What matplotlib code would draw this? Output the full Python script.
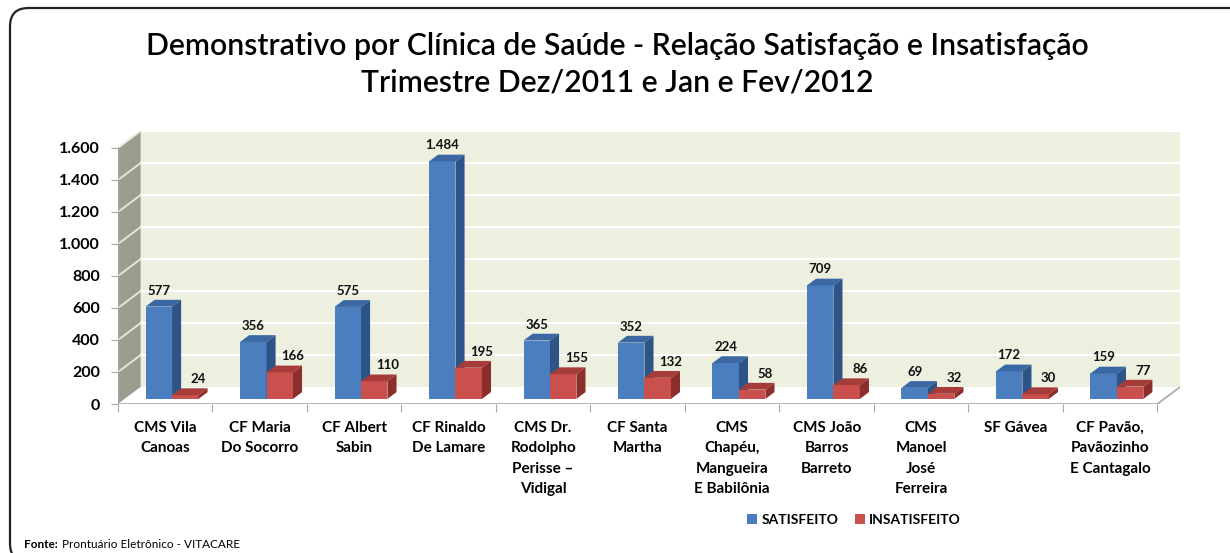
import matplotlib.pyplot as plt
from matplotlib.patches import Polygon, Patch, FancyBboxPatch
import numpy as np

plt.rcParams['font.family'] = ['Lato', 'DejaVu Sans']

# data
clinicas = ['CMS Vila\nCanoas', 'CF Maria\nDo Socorro', 'CF Albert\nSabin',
            'CF Rinaldo\nDe Lamare', 'CMS Dr.\nRodolpho\nPerisse –\nVidigal',
            'CF Santa\nMartha', 'CMS\nChapéu,\nMangueira\nE Babilônia',
            'CMS João\nBarros\nBarreto', 'CMS\nManoel\nJosé\nFerreira',
            'SF Gávea', 'CF Pavão,\nPavãozinho\nE Cantagalo']
satisfeito = [577, 356, 575, 1484, 365, 352, 224, 709, 69, 172, 159]
insatisfeito = [24, 166, 110, 195, 155, 132, 58, 86, 32, 30, 77]
y_ticks = [0, 200, 400, 600, 800, 1000, 1200, 1400, 1600]
y_ticklabels = ['0', '200', '400', '600', '800', '1.000', '1.200', '1.400', '1.600']

W, H = 1230, 553
fig = plt.figure(figsize=(W / 100, H / 100), dpi=100)

def fx(px):
    return px / W

def fy(py):
    return 1 - py / H

# rounded frame, right and bottom run off the picture
frame = FancyBboxPatch((fx(10), fy(562)), fx(1260) - fx(10), fy(8) - fy(562),
                       boxstyle='round,pad=0,rounding_size=0.015',
                       transform=fig.transFigure, fill=False, ec='#222222', lw=1.6,
                       mutation_aspect=W / H)
fig.patches.append(frame)

fig.text(0.502, fy(46), 'Demonstrativo por Clínica de Saúde - Relação Satisfação e Insatisfação',
         ha='center', va='center', fontsize=21.7, fontweight='semibold', color='black')
fig.text(0.502, fy(82), 'Trimestre Dez/2011 e Jan e Fev/2012',
         ha='center', va='center', fontsize=21.7, fontweight='semibold', color='black')

# pseudo 3d geometry
n = len(clinicas)
DX = 0.24      # depth offset in category units
DY = 106       # depth offset in value units
f0, f1 = 0.3, 0.7

ax = fig.add_axes([fx(118), fy(404), fx(1180) - fx(118), fy(131) - fy(404)])
ax.set_xlim(0, n + DX)
ax.set_ylim(0, 1600 + DY)
for s in ax.spines.values():
    s.set_visible(False)

# walls
ax.add_patch(Polygon([(0, 0), (DX, DY), (DX, 1600 + DY), (0, 1600)],
                     closed=True, fc='#9c9d8e', ec='none', zorder=1))
ax.add_patch(Polygon([(DX, DY), (n + DX, DY), (n + DX, 1600 + DY), (DX, 1600 + DY)],
                     closed=True, fc='#edf0df', ec='none', zorder=1))
for v in y_ticks[1:]:
    ax.plot([DX, n + DX], [v + DY, v + DY], color='white', lw=1.6, zorder=2)
    ax.plot([0, DX], [v, v + DY], color='#e8eadc', lw=1.3, zorder=2)
# floor
ax.add_patch(Polygon([(0, 0), (n, 0), (n + DX, DY), (DX, DY)],
                     closed=True, fc='white', ec='none', zorder=2))
ax.plot([0, n, n + DX], [0, 0, DY], color='#a8a8a8', lw=1.2, zorder=3)
ax.plot([0, 0], [0, 1600], color='#a8a8a8', lw=1.2, zorder=3)

def bar3d(x0, w, val, front, top, side):
    bx = x0 + f0 * DX
    by = f0 * DY
    ddx = (f1 - f0) * DX
    ddy = (f1 - f0) * DY
    ax.bar(bx, val, width=w, bottom=by, align='edge', color=front, zorder=5)
    ax.add_patch(Polygon([(bx, by + val), (bx + w, by + val), (bx + w + ddx, by + val + ddy),
                          (bx + ddx, by + val + ddy)], closed=True, fc=top, ec='none', zorder=5))
    ax.add_patch(Polygon([(bx + w, by), (bx + w + ddx, by + ddy), (bx + w + ddx, by + val + ddy),
                          (bx + w, by + val)], closed=True, fc=side, ec='none', zorder=5))
    return bx + w / 2, by + val

bw = 0.28
for i in range(n):
    cx, cy = bar3d(i + 0.22, bw, satisfeito[i], '#4a7ebf', '#3b67a3', '#2e5487')
    ax.annotate(f'{satisfeito[i]:,}'.replace(',', '.'), (cx, cy), xytext=(0, 16),
                textcoords='offset pixels', ha='center', va='center',
                fontsize=9.5, fontweight='bold', color='#111111', zorder=7)
    cx, cy = bar3d(i + 0.50, bw, insatisfeito[i], '#c9504c', '#a63c39', '#8c2e2c')
    ax.annotate(f'{insatisfeito[i]}', (cx, cy), xytext=(13, 16),
                textcoords='offset pixels', ha='center', va='center',
                fontsize=9.5, fontweight='bold', color='#111111', zorder=7)

ax.set_yticks(y_ticks)
ax.set_yticklabels(y_ticklabels)
ax.tick_params(axis='y', length=5, color='#a8a8a8', pad=8, labelsize=11.5)
for t in ax.get_yticklabels():
    t.set_fontweight('bold')

ax.set_xticks(np.arange(n + 1))
ax.set_xticklabels([])
ax.set_xticks(np.arange(n) + 0.5, minor=True)
ax.set_xticklabels(clinicas, minor=True, fontsize=11, fontweight='bold', linespacing=1.6)
ax.tick_params(axis='x', which='major', length=6, color='#a8a8a8')
ax.tick_params(axis='x', which='minor', length=0, pad=12)

handles = [Patch(fc='#4a7ebf', label='SATISFEITO'), Patch(fc='#c9504c', label='INSATISFEITO')]
fig.legend(handles=handles, loc='center', bbox_to_anchor=(fx(854), fy(520)), ncol=2,
           frameon=False, handlelength=0.7, handleheight=0.7, handletextpad=0.3,
           columnspacing=1.2, prop={'size': 10, 'weight': 'bold'})

fig.text(fx(24), fy(544), 'Fonte:', ha='left', va='center', fontsize=8.5, fontweight='bold')
fig.text(fx(62), fy(544), 'Prontuário Eletrônico - VITACARE', ha='left', va='center', fontsize=8.5)

fig.savefig('out.png', dpi=100)
